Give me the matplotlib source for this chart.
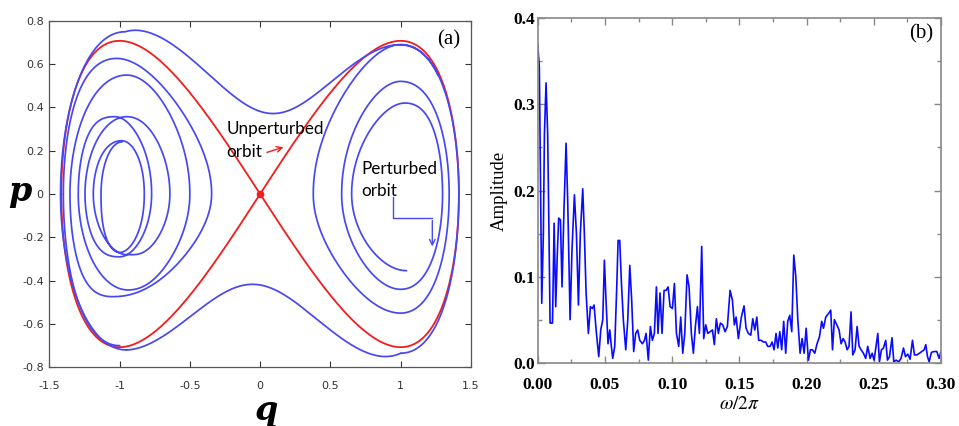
import numpy as np
import matplotlib
matplotlib.use("Agg")
import matplotlib.pyplot as plt
from matplotlib.ticker import MultipleLocator

plt.rcParams['mathtext.fontset'] = 'stix'

# ---------- panel (a): phase plane ----------
sep_amp = 1.0   # unperturbed separatrix: q turns at +-1.414, p peaks at +-0.707

# perturbed orbit, right well, from its inner end outwards (clockwise)
# keys alternate: bottom p, inner edge q, top p, outer edge q, ...
right_keys = [-0.354, 0.651, 0.42, 1.298, -0.44, 0.58, 0.52, 1.345,
              -0.55, 0.378, 0.69, 1.414, -0.735]
right_shift = [0.04, 0, 0.03, 0, 0, 0, 0, 0, 0, 0, 0, 0, 0]

# then once round both wells
outer_bot_q = [1.0, 0.5, 0.0, -0.95]
outer_bot_p = [-0.735, -0.628, -0.42, -0.72]
outer_left_keys = [-0.72, -1.42, 0.749]
outer_left_shift = [0.05, 0, 0.04]
outer_top_q = [-0.96, 0.07, 0.5, 1.0]
outer_top_p = [0.749, 0.372, 0.515, 0.688]
end_keys = [0.688, 1.414]
end_q = 1.267

# loops in the left well, keys alternate: bottom p, outer edge q, top p, inner edge q
left_keys = [-0.70, -1.40, 0.626, -0.345, -0.474, -1.353, 0.549, -0.50,
             -0.443, -1.294, 0.357, -0.772, -0.29, -1.246, 0.357, -0.642,
             -0.28, -1.187, 0.246, -0.824, -0.27, -1.132, 0.24]
left_shift = [0, 0, -0.02, 0, -0.05, 0, 0.05, 0, 0.06, 0, -0.03, 0,
              0, 0, 0.05, 0, 0.05, 0, 0.015, 0, 0, 0, 0.015]

q_ticks = [-1.5, -1, -0.5, 0, 0.5, 1, 1.5]
q_labels = ['-1.5', '-1', '-0.5', '0', '0.5', '1', '1.5']
p_ticks = [-0.8, -0.6, -0.4, -0.2, 0, 0.2, 0.4, 0.6, 0.8]
p_labels = ['-0.8', '-0.6', '-0.4', '-0.2', '0', '0.2', '0.4', '0.6', '0.8']

# ---------- panel (b): spectrum ----------
freq = [0.000, 0.0012, 0.0022, 0.003, 0.0042, 0.005, 0.0062, 0.0074, 0.0084, 0.0092,
        0.011, 0.0122, 0.0134, 0.0146, 0.0156, 0.0169, 0.0181, 0.0196, 0.0211, 0.0223,
        0.0241, 0.0255, 0.0273, 0.0288, 0.0303, 0.0317, 0.0335, 0.0347, 0.036, 0.0377,
        0.0392, 0.0407, 0.0419, 0.0437, 0.0454, 0.0469, 0.0484, 0.0496, 0.0508, 0.0523,
        0.0536, 0.0546, 0.0558, 0.0573, 0.0588, 0.0598, 0.061, 0.0623, 0.0637, 0.0655,
        0.067, 0.0685, 0.0699, 0.0714, 0.0729, 0.0744, 0.0759, 0.0779, 0.0794, 0.0806,
        0.0823, 0.0838, 0.0853, 0.0868, 0.0883, 0.0895, 0.091, 0.0925, 0.094, 0.0955,
        0.097, 0.0985, 0.1002, 0.1017, 0.1032, 0.1049, 0.1064, 0.1079, 0.1094, 0.1111,
        0.1126, 0.1143, 0.1158, 0.1173, 0.1188, 0.1203, 0.122, 0.1235, 0.125, 0.1265,
        0.1282, 0.13, 0.1314, 0.1329, 0.1344, 0.1359, 0.1376, 0.1394, 0.1411, 0.1431,
        0.1448, 0.1463, 0.1476, 0.1493, 0.1515, 0.1535, 0.155, 0.1567, 0.1585, 0.16,
        0.1615, 0.163, 0.1644, 0.1662, 0.1679, 0.1696, 0.1711, 0.1729, 0.1744, 0.1758,
        0.1773, 0.1786, 0.1801, 0.1815, 0.183, 0.1845, 0.186, 0.1875, 0.189, 0.1905,
        0.192, 0.1935, 0.1952, 0.1967, 0.1982, 0.1997, 0.2014, 0.2029, 0.2044, 0.2061,
        0.2078, 0.2096, 0.2113, 0.2126, 0.2143, 0.2163, 0.218, 0.2193, 0.2207, 0.2225,
        0.2242, 0.2257, 0.2272, 0.2287, 0.2302, 0.2316, 0.2331, 0.2344, 0.2361, 0.2376,
        0.2391, 0.2406, 0.2423, 0.244, 0.2455, 0.2473, 0.2488, 0.2502, 0.2517, 0.253,
        0.2542, 0.2557, 0.2572, 0.2589, 0.2602, 0.2617, 0.2636, 0.2649, 0.2666, 0.2686,
        0.2703, 0.2721, 0.2736, 0.2753, 0.277, 0.2788, 0.2803, 0.282, 0.284, 0.2857,
        0.2875, 0.2887, 0.29, 0.2912, 0.2929, 0.2949, 0.2969, 0.2986, 0.300]
amp = [0.369, 0.344, 0.189, 0.069, 0.150, 0.266, 0.325, 0.266, 0.150, 0.046,
       0.046, 0.162, 0.065, 0.127, 0.168, 0.166, 0.088, 0.181, 0.255, 0.189,
       0.050, 0.131, 0.195, 0.150, 0.067, 0.150, 0.202, 0.150, 0.081, 0.034,
       0.065, 0.063, 0.067, 0.034, 0.007, 0.038, 0.050, 0.119, 0.073, 0.022,
       0.038, 0.022, 0.005, 0.019, 0.088, 0.142, 0.142, 0.092, 0.050, 0.015,
       0.050, 0.113, 0.073, 0.013, 0.034, 0.038, 0.026, 0.022, 0.026, 0.034,
       0.003, 0.042, 0.026, 0.034, 0.088, 0.034, 0.081, 0.034, 0.084, 0.084,
       0.088, 0.065, 0.063, 0.092, 0.034, 0.019, 0.053, 0.011, 0.034, 0.102,
       0.088, 0.034, 0.011, 0.042, 0.065, 0.034, 0.135, 0.028, 0.044, 0.034,
       0.036, 0.038, 0.021, 0.051, 0.034, 0.046, 0.044, 0.036, 0.042, 0.084,
       0.073, 0.044, 0.053, 0.028, 0.053, 0.066, 0.040, 0.034, 0.032, 0.051,
       0.038, 0.053, 0.026, 0.026, 0.024, 0.024, 0.019, 0.019, 0.024, 0.015,
       0.034, 0.017, 0.036, 0.015, 0.048, 0.011, 0.048, 0.055, 0.036, 0.125,
       0.100, 0.050, 0.011, 0.028, 0.011, 0.040, 0.003, 0.015, 0.015, 0.011,
       0.022, 0.030, 0.048, 0.040, 0.053, 0.057, 0.061, 0.015, 0.050, 0.044,
       0.038, 0.022, 0.028, 0.024, 0.015, 0.019, 0.059, 0.009, 0.015, 0.042,
       0.019, 0.015, 0.011, 0.005, 0.019, 0.005, 0.011, 0.003, 0.019, 0.034,
       0.001, 0.015, 0.017, 0.026, 0.003, 0.007, 0.029, 0.001, 0.003, 0.001,
       0.005, 0.017, 0.007, 0.010, 0.004, 0.026, 0.009, 0.009, 0.011, 0.013,
       0.015, 0.021, 0.007, 0.001, 0.012, 0.013, 0.013, 0.005, 0.013]
w_ticks = [0.00, 0.05, 0.10, 0.15, 0.20, 0.25, 0.30]
w_labels = ['0.00', '0.05', '0.10', '0.15', '0.20', '0.25', '0.30']
a_ticks = [0.0, 0.1, 0.2, 0.3, 0.4]
a_labels = ['0.0', '0.1', '0.2', '0.3', '0.4']


def pot(q):
    return q ** 4 / 4 - q ** 2 / 2


def ease(x, xk, vk):
    """Join key values with smooth (zero slope at the keys) steps."""
    xk, vk = np.asarray(xk, float), np.asarray(vk, float)
    i = np.clip(np.searchsorted(xk, x, side='right') - 1, 0, len(xk) - 2)
    t = np.clip((x - xk[i]) / (xk[i + 1] - xk[i]), 0, 1)
    w = t * t * (3 - 2 * t)
    return vk[i] + (vk[i + 1] - vk[i]) * w


def well_curve(sign, theta0, keys, shift, n=90):
    """Orbit inside one well, amplitude changing from key to key (quarter turns)."""
    th_k = theta0 + np.pi / 2 * np.arange(len(keys))
    r_k = []
    for th, v, d in zip(th_k, keys, shift):
        if abs(np.cos(th)) < 0.5:      # top or bottom: key is p
            r_k.append(np.sqrt(2) * abs(v))
        else:                          # turning edge: key is q
            r_k.append(abs((v - d) ** 2 - 1))
    th = np.linspace(th_k[0], th_k[-1], n * (len(keys) - 1))
    r = ease(th, th_k, r_k)
    d = ease(th, th_k, shift)
    q = sign * np.sqrt(np.clip(1 + r * np.cos(th), 0, None)) + d
    p = -sign * r * np.sin(th) / np.sqrt(2)
    return q, p


def middle_curve(qk, pk, n=200):
    """Part of the orbit crossing q = 0, p rebuilt from the energy at read points."""
    qk, pk = np.array(qk), np.array(pk)
    ek = pk ** 2 / 2 + pot(qk)
    coef = np.polyfit(qk, ek, len(qk) - 1)   # passes through every read point
    q = np.linspace(qk[0], qk[-1], n)
    p = np.sign(pk[0]) * np.sqrt(np.clip(2 * (np.polyval(coef, q) - pot(q)), 0, None))
    return q, p


fig = plt.figure(figsize=(9.59, 4.26), dpi=100)
ax1 = fig.add_axes([0.0514, 0.1378, 0.4397, 0.8136])
ax2 = fig.add_axes([0.5607, 0.1486, 0.4205, 0.8084])

# ----- (a) -----
blue = '#4848f2'
red = '#f21c1c'

th = np.linspace(0, 2 * np.pi, 600)
for s in (1, -1):
    qs = s * np.sqrt(np.clip(1 + sep_amp * np.cos(th), 0, None))
    ps = -s * sep_amp * np.sin(th) / np.sqrt(2)
    ax1.plot(qs, ps, color=red, lw=1.3, zorder=2)
ax1.plot([0], [0], 'o', color=red, ms=4.5, zorder=2)

parts = [well_curve(1, np.pi / 2, right_keys, right_shift),
         middle_curve(outer_bot_q, outer_bot_p),
         well_curve(-1, 3 * np.pi / 2, outer_left_keys, outer_left_shift),
         middle_curve(outer_top_q, outer_top_p)]
qe, pe = well_curve(1, 3 * np.pi / 2, end_keys, [0, 0])
keep = np.cumsum(qe > end_q) == 0
parts.append((qe[keep], pe[keep]))
qa = np.concatenate([c[0] for c in parts])
pa = np.concatenate([c[1] for c in parts])
ax1.plot(qa, pa, color=blue, lw=1.25, zorder=3)

ql, pl = well_curve(-1, 3 * np.pi / 2, left_keys, left_shift)
ax1.plot(ql, pl, color=blue, lw=1.25, zorder=3)

ax1.set_xlim(-1.5, 1.5)
ax1.set_ylim(-0.8, 0.8)
ax1.set_xticks(q_ticks)
ax1.set_xticklabels(q_labels)
ax1.set_yticks(p_ticks)
ax1.set_yticklabels(p_labels)
ax1.tick_params(direction='in', top=True, right=True, length=4, width=0.8,
                labelsize=8, colors='#333333')
ax1.tick_params(axis='x', pad=10)
ax1.tick_params(axis='y', pad=4)
for sp in ax1.spines.values():
    sp.set_color('#555555')
    sp.set_linewidth(0.9)
fig.text(0.2784, 0.037, 'q', fontsize=24, fontweight='bold', fontstyle='italic',
         family='DejaVu Serif', ha='center', va='center')
fig.text(0.021, 0.55, 'p', fontsize=24, fontweight='bold', fontstyle='italic',
         family='DejaVu Serif', ha='center', va='center')

tfont = dict(fontsize=12.3, family='Lato', color='black')
ax1.text(-0.24, 0.30, 'Unperturbed', va='center', **tfont)
ax1.text(-0.24, 0.195, 'orbit', va='center', **tfont)
ax1.annotate('', xy=(0.185, 0.22), xytext=(0.03, 0.188),
             arrowprops=dict(arrowstyle='->', color=red, lw=1.0))
ax1.text(0.722, 0.115, 'Perturbed', va='center', **tfont)
ax1.text(0.722, 0.015, 'orbit', va='center', **tfont)
ax1.plot([0.947, 0.947, 1.225], [-0.012, -0.112, -0.112], color=blue, lw=1.0)
ax1.annotate('', xy=(1.225, -0.255), xytext=(1.225, -0.11),
             arrowprops=dict(arrowstyle='->', color=blue, lw=1.0))
ax1.text(0.946, 0.946, '(a)', transform=ax1.transAxes, ha='center', va='center',
         fontsize=15, family='Liberation Serif')

# ----- (b) -----
ax2.plot(freq, amp, color='#0a0aff', lw=1.2)
ax2.set_xlim(0, 0.30)
ax2.set_ylim(0, 0.4)
ax2.set_xticks(w_ticks)
ax2.set_xticklabels(w_labels)
ax2.set_yticks(a_ticks)
ax2.set_yticklabels(a_labels)
ax2.xaxis.set_minor_locator(MultipleLocator(0.025))
ax2.yaxis.set_minor_locator(MultipleLocator(0.05))
ax2.tick_params(which='both', direction='in', top=True, right=True,
                colors='#888888', width=1.0)
ax2.tick_params(which='major', length=5)
ax2.tick_params(which='minor', length=3)
ax2.tick_params(axis='x', which='major', pad=10)
ax2.tick_params(axis='y', which='major', pad=2)
for lab in ax2.get_xticklabels() + ax2.get_yticklabels():
    lab.set_family('Liberation Serif')
    lab.set_fontweight('bold')
    lab.set_fontsize(12.5)
    lab.set_color('black')
for sp in ax2.spines.values():
    sp.set_color('#888888')
    sp.set_linewidth(1.2)
ax2.set_ylabel('Amplitude', fontsize=13.5, family='Liberation Serif', labelpad=4)
ax2.set_xlabel(r'$\omega/2\pi$', fontsize=14, labelpad=1)
ax2.text(0.952, 0.956, '(b)', transform=ax2.transAxes, ha='center', va='center',
         fontsize=15, family='Liberation Serif')

fig.savefig('out.png', dpi=100)
